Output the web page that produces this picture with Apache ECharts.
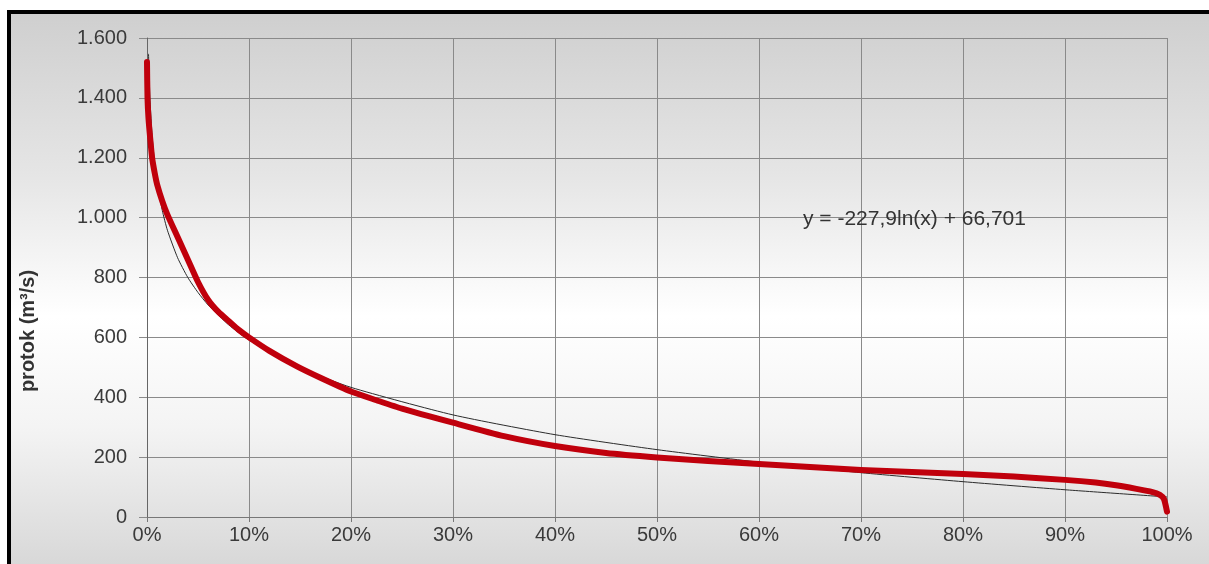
<!DOCTYPE html>
<html>
<head>
<meta charset="utf-8">
<script src="https://cdn.jsdelivr.net/npm/echarts@6/dist/echarts.min.js"></script>
<style>
  html, body { margin: 0; padding: 0; background: #fff; }
  #frame {
    position: absolute; left: 7px; top: 10px; width: 1202px; height: 554px;
    border-top: 4px solid #000; border-left: 4px solid #000; box-sizing: border-box;
    background: linear-gradient(to bottom, #cfcfcf 0%, #e6e6e6 30%, #ffffff 55%, #f4f4f4 75%, #d8d8d8 100%);
  }
  #chart { position: absolute; left: 0; top: 0; width: 1209px; height: 564px; }
</style>
</head>
<body>
<div id="frame"></div>
<div id="chart"></div>
<script>
// trajanje protoka (% vremena) -> protok m3/s, očitano sa slike
const flowPct = [0, 0.05, 0.15, 0.3, 0.5, 0.75, 1, 1.5, 2, 3, 4, 5, 6, 7, 8, 9, 10, 12, 14.7, 17, 20, 22.5, 25, 30, 35, 40, 45, 50, 55, 60, 65, 70, 75, 80, 85, 90, 93, 95, 97, 98.5, 99.3, 99.7, 100];
const flowVal = [1520, 1400, 1330, 1270, 1200, 1150, 1110, 1055, 1010, 935, 860, 785, 725, 685, 655, 625, 600, 555, 503, 465, 419, 390, 362, 315, 270, 237, 214, 199, 187, 177, 167, 157, 150, 144, 135, 124, 115, 106, 94, 84, 74, 60, 18];

// logaritamska linija trenda
const trendPct = [0.15, 0.2, 0.3, 0.5, 0.75, 1, 1.5, 2, 3, 4, 5, 6, 8, 10, 15, 20, 30, 40, 50, 60, 70, 80, 90, 100];
const trendVal = [1547, 1483, 1390, 1274, 1182, 1116, 1024, 958, 866, 800, 750, 708, 642, 591, 499, 433, 341, 275, 225, 183, 148, 118, 91, 67];

const xTicks = [0, 10, 20, 30, 40, 50, 60, 70, 80, 90, 100];
const equation = 'y = -227,9ln(x) + 66,701';
const yTitle = 'protok (m³/s)';

const chart = echarts.init(document.getElementById('chart'));
const pairs = (xs, ys) => xs.map((x, i) => [x, ys[i]]);
const txt = '#3a3a3a';

chart.setOption({
  backgroundColor: 'transparent',
  animation: false,
  grid: { left: 147, right: 42, top: 38, bottom: 47 },
  xAxis: {
    type: 'value', min: xTicks[0], max: xTicks[xTicks.length - 1], interval: 10,
    axisLine: { show: true, onZero: false, lineStyle: { color: '#777', width: 1 } },
    axisTick: { show: true, length: 5, lineStyle: { color: '#777' } },
    axisLabel: { formatter: '{value}%', color: txt, fontSize: 20, fontFamily: 'Liberation Sans', margin: 8 },
    splitLine: { lineStyle: { color: '#8a8a8a', width: 1 } }
  },
  yAxis: {
    type: 'value', min: 0, max: 1600, interval: 200,
    axisLine: { show: true, lineStyle: { color: '#666', width: 1 } },
    axisTick: { show: true, length: 8, lineStyle: { color: '#8a8a8a' } },
    axisLabel: {
      color: txt, fontSize: 20, fontFamily: 'Liberation Sans', margin: 20,
      formatter: v => v >= 1000 ? Math.floor(v / 1000) + '.' + String(v % 1000).padStart(3, '0') : String(v)
    },
    splitLine: { lineStyle: { color: '#8a8a8a', width: 1 } }
  },
  graphic: [
    {
      type: 'text', left: 803, top: 209, z: 10,
      style: { text: equation, fill: '#333', font: '21px "Liberation Sans"' }
    },
    {
      type: 'text', x: 28, y: 331, rotation: Math.PI / 2, z: 10,
      style: { text: yTitle, fill: '#333', font: 'bold 20px "Liberation Sans"', align: 'center', verticalAlign: 'middle' }
    }
  ],
  series: [
    {
      name: 'trend', type: 'line', data: pairs(trendPct, trendVal),
      showSymbol: false, smooth: 0.2, z: 2,
      lineStyle: { color: '#2b2b2b', width: 1 }
    },
    {
      name: 'protok', type: 'line', data: pairs(flowPct, flowVal),
      showSymbol: false, smooth: 0.2, z: 3,
      lineStyle: { color: '#c0000c', width: 6, cap: 'round', join: 'round' }
    }
  ]
});
</script>
</body>
</html>
